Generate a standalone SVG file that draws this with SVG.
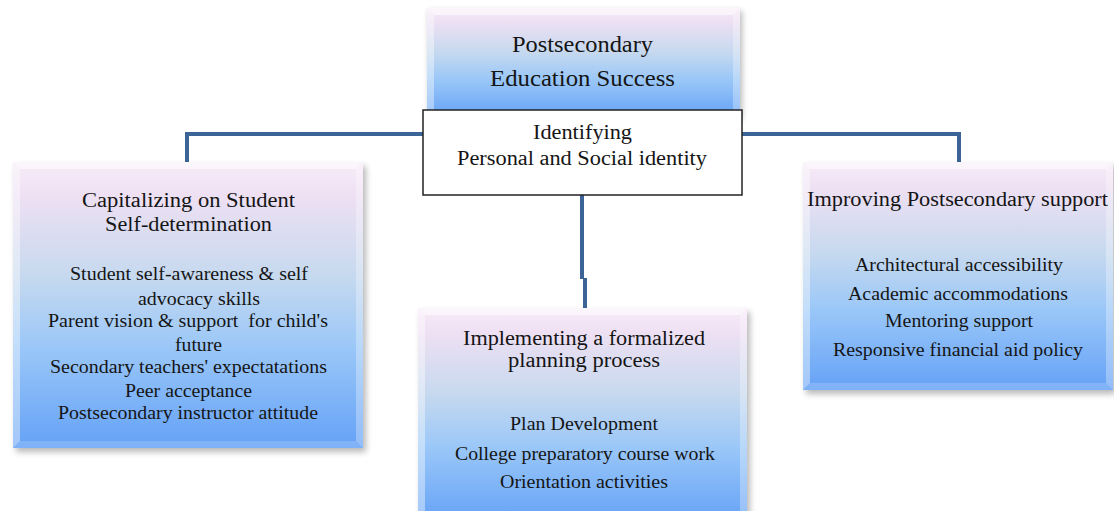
<svg xmlns="http://www.w3.org/2000/svg" width="1114" height="511" viewBox="0 0 1114 511">
<defs>
<linearGradient id="g" x1="0" y1="0" x2="0" y2="1">
<stop offset="0" stop-color="#f7ebf8"/>
<stop offset="0.12" stop-color="#eee0f3"/>
<stop offset="0.4" stop-color="#c6d9ef"/>
<stop offset="0.65" stop-color="#9ac7f8"/>
<stop offset="1" stop-color="#64a1f6"/>
</linearGradient>
<filter id="sh" x="-10%" y="-10%" width="120%" height="120%">
<feGaussianBlur stdDeviation="3"/>
</filter>
<style>
.box{fill:url(#g)}
.shadow{fill:#000;opacity:0.28;filter:url(#sh)}
.bt{fill:#fff;opacity:0.55}
.bl{fill:#fff;opacity:0.4}
.br{fill:#fff;opacity:0.3}
.bb{fill:#fff;opacity:0.18}
.conn{fill:none;stroke:#3c6496;stroke-width:4}
text{font-family:"Liberation Serif","Times New Roman",serif;fill:#151515}
.t{font-size:20px}
.b{font-size:18px}
.h{font-size:23px}
.pre{white-space:pre}
</style>
</defs>

<g id="connectors">
<path class="conn" d="M187,162 V134 H425"/>
<path class="conn" d="M741,134 H959 V162"/>
<path class="conn" d="M582,195 V279 M585,278 V308"/>
</g>

<g id="node-top">
<rect class="shadow" x="429" y="11" width="313" height="108"/>
<rect class="box" x="427" y="8" width="313" height="110"/>
<polygon class="bt" points="427,8 740,8 733,15 434,15"/>
<polygon class="bl" points="427,8 434,15 434,118 427,118"/>
<polygon class="br" points="740,8 740,118 733,118 733,15"/>
<text class="h" x="512" y="52" textLength="141" lengthAdjust="spacingAndGlyphs">Postsecondary</text>
<text class="h" x="490" y="86" textLength="185" lengthAdjust="spacingAndGlyphs">Education Success</text>
</g>

<g id="node-identity">
<rect x="423" y="110" width="319" height="85" fill="#fff" stroke="#222" stroke-width="1.5"/>
<text class="t" x="533" y="139" textLength="99" lengthAdjust="spacingAndGlyphs">Identifying</text>
<text class="t" x="457" y="165" textLength="250" lengthAdjust="spacingAndGlyphs">Personal and Social identity</text>
</g>

<g id="node-left">
<rect class="shadow" x="16" y="166" width="350" height="286"/>
<rect class="box" x="13" y="162" width="350" height="286"/>
<polygon class="bt" points="13,162 363,162 356,169 20,169"/>
<polygon class="bl" points="13,162 20,169 20,441 13,448"/>
<polygon class="br" points="363,162 363,448 356,441 356,169"/>
<polygon class="bb" points="13,448 20,441 356,441 363,448"/>
<text class="t" x="82" y="207" textLength="213" lengthAdjust="spacingAndGlyphs">Capitalizing on Student</text>
<text class="t" x="105" y="231" textLength="167" lengthAdjust="spacingAndGlyphs">Self-determination</text>
<text class="b" x="70" y="280" textLength="238" lengthAdjust="spacingAndGlyphs">Student self-awareness &amp; self</text>
<text class="b" x="138" y="305" textLength="122" lengthAdjust="spacingAndGlyphs">advocacy skills</text>
<text class="b pre" x="48" y="327" textLength="280" lengthAdjust="spacingAndGlyphs">Parent vision &amp; support  for child's</text>
<text class="b" x="175" y="351" textLength="47" lengthAdjust="spacingAndGlyphs">future</text>
<text class="b" x="50" y="373" textLength="277" lengthAdjust="spacingAndGlyphs">Secondary teachers' expectatations</text>
<text class="b" x="125" y="397" textLength="127" lengthAdjust="spacingAndGlyphs">Peer acceptance</text>
<text class="b" x="58" y="419" textLength="260" lengthAdjust="spacingAndGlyphs">Postsecondary instructor attitude</text>
</g>

<g id="node-middle">
<rect class="shadow" x="421" y="312" width="329" height="215"/>
<rect class="box" x="418" y="308" width="329" height="215"/>
<polygon class="bt" points="418,308 747,308 740,315 425,315"/>
<polygon class="bl" points="418,308 425,315 425,523 418,523"/>
<polygon class="br" points="747,308 747,523 740,523 740,315"/>
<text class="t" x="463" y="345" textLength="242" lengthAdjust="spacingAndGlyphs">Implementing a formalized</text>
<text class="t" x="508" y="367" textLength="152" lengthAdjust="spacingAndGlyphs">planning process</text>
<text class="b" x="510" y="430" textLength="148" lengthAdjust="spacingAndGlyphs">Plan Development</text>
<text class="b" x="455" y="460" textLength="260" lengthAdjust="spacingAndGlyphs">College preparatory course work</text>
<text class="b" x="500" y="488" textLength="168" lengthAdjust="spacingAndGlyphs">Orientation activities</text>
</g>

<g id="node-right">
<rect class="shadow" x="806" y="166" width="310" height="228"/>
<rect class="box" x="803" y="162" width="310" height="228"/>
<polygon class="bt" points="803,162 1113,162 1106,169 810,169"/>
<polygon class="bl" points="803,162 810,169 810,383 803,390"/>
<polygon class="br" points="1113,162 1113,390 1106,383 1106,169"/>
<polygon class="bb" points="803,390 810,383 1106,383 1113,390"/>
<text class="t" x="807" y="206" textLength="301" lengthAdjust="spacingAndGlyphs">Improving Postsecondary support</text>
<text class="b" x="855" y="271" textLength="208" lengthAdjust="spacingAndGlyphs">Architectural accessibility</text>
<text class="b" x="848" y="300" textLength="220" lengthAdjust="spacingAndGlyphs">Academic accommodations</text>
<text class="b" x="885" y="327" textLength="148" lengthAdjust="spacingAndGlyphs">Mentoring support</text>
<text class="b" x="833" y="356" textLength="250" lengthAdjust="spacingAndGlyphs">Responsive financial aid policy</text>
</g>
</svg>
